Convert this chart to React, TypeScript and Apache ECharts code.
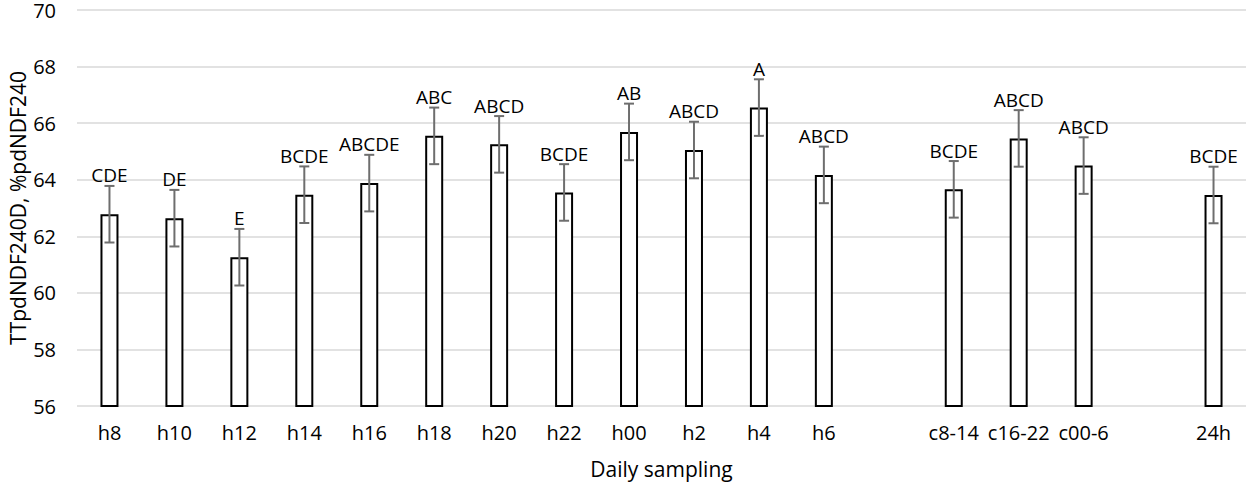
import React, { useEffect, useRef } from 'react';
import * as echarts from 'echarts';

const categories = ['h8', 'h10', 'h12', 'h14', 'h16', 'h18', 'h20', 'h22', 'h00', 'h2', 'h4', 'h6', ' ', 'c8-14', 'c16-22', 'c00-6', '  ', '24h'];
const means: (number | null)[] = [62.78, 62.64, 61.26, 63.47, 63.88, 65.55, 65.25, 63.55, 65.69, 65.05, 66.55, 64.17, null, 63.66, 65.46, 64.5, null, 63.46];
const errors: (number | null)[] = [1.0, 1.0, 1.0, 1.0, 1.0, 1.0, 1.0, 1.0, 1.0, 1.0, 1.0, 1.0, null, 1.0, 1.0, 1.0, null, 1.0];
const letters = ['CDE', 'DE', 'E', 'BCDE', 'ABCDE', 'ABC', 'ABCD', 'BCDE', 'AB', 'ABCD', 'A', 'ABCD', '', 'BCDE', 'ABCD', 'ABCD', '', 'BCDE'];
const yTicks = { min: 56, max: 70, interval: 2 };

const FONT = '"Open Sans", "Noto Sans", sans-serif';

export default function App() {
  const ref = useRef<HTMLDivElement>(null);
  useEffect(() => {
    document.body.style.margin = '0';
    if (!ref.current) return;
    const chart = echarts.init(ref.current, undefined, { renderer: 'svg' });
    const errData = means
      .map((v, i) => (v == null ? null : [i, v, errors[i] as number]))
      .filter((d) => d != null);
    chart.setOption({
      animation: false,
      grid: { left: 77, right: 2, top: 10, bottom: 79, containLabel: false, outerBoundsMode: 'none' },
      xAxis: {
        type: 'category',
        data: categories,
        name: 'Daily sampling',
        nameLocation: 'middle',
        nameGap: 52,
        nameMoveOverlap: false,
        nameTextStyle: { fontFamily: FONT, fontSize: 21, color: '#000' },
        axisLine: { show: false },
        axisTick: { show: false },
        axisLabel: { interval: 0, margin: 16, fontFamily: FONT, fontSize: 20, color: '#000' },
      },
      yAxis: {
        type: 'value',
        min: yTicks.min,
        max: yTicks.max,
        interval: yTicks.interval,
        name: 'TTpdNDF240D, %pdNDF240',
        nameLocation: 'middle',
        nameGap: 49,
        nameMoveOverlap: false,
        nameTextStyle: { fontFamily: FONT, fontSize: 21, color: '#000' },
        axisLine: { show: false },
        axisTick: { show: false },
        axisLabel: { margin: 21, fontFamily: FONT, fontSize: 20, lineHeight: 18, color: '#000' },
        splitLine: { show: true, lineStyle: { color: '#d9d9d9', width: 1.5 } },
      },
      series: [
        {
          type: 'bar',
          data: means.map((v) => (v == null ? '-' : v)),
          barWidth: 18,
          itemStyle: { color: '#ffffff', borderColor: '#000000', borderWidth: 2 },
          z: 2,
        },
        {
          type: 'custom',
          data: errData,
          encode: { x: 0, y: 1 },
          z: 3,
          renderItem: (params: any, api: any) => {
            const x = api.value(0);
            const v = api.value(1);
            const e = api.value(2);
            const top = api.coord([x, v + e]);
            const bot = api.coord([x, v - e]);
            const hw = 5;
            const style = { stroke: '#6e6e6e', lineWidth: 2 };
            return {
              type: 'group',
              children: [
                { type: 'line', shape: { x1: top[0], y1: top[1], x2: bot[0], y2: bot[1] }, style },
                { type: 'line', shape: { x1: top[0] - hw, y1: top[1], x2: top[0] + hw, y2: top[1] }, style },
                { type: 'line', shape: { x1: bot[0] - hw, y1: bot[1], x2: bot[0] + hw, y2: bot[1] }, style },
                {
                  type: 'text',
                  x: top[0],
                  y: top[1] - 1,
                  style: {
                    text: letters[x],
                    align: 'center',
                    verticalAlign: 'bottom',
                    fontFamily: FONT,
                    fontSize: 19,
                    fill: '#000',
                  },
                },
              ],
            };
          },
        },
      ],
    });
    return () => chart.dispose();
  }, []);
  return <div ref={ref} style={{ width: 1248, height: 485 }} />;
}
